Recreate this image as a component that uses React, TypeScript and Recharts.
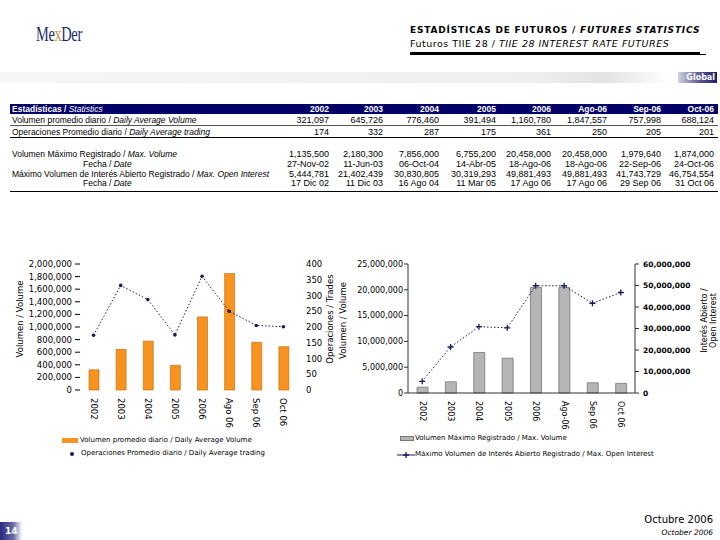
import React from 'react';
import { ComposedChart, Bar, Line, XAxis, YAxis, Label } from 'recharts';

// ---------- data ----------
const tableHeaders = ['2002', '2003', '2004', '2005', '2006', 'Ago-06', 'Sep-06', 'Oct-06'];
const leftCategories = ['2002', '2003', '2004', '2005', '2006', 'Ago 06', 'Sep 06', 'Oct 06'];
const rightCategories = ['2002', '2003', '2004', '2005', '2006', 'Ago-06', 'Sep 06', 'Oct 06'];
const dailyAvgVolume = [321097, 645726, 776460, 391494, 1160780, 1847557, 757998, 688124];
const dailyAvgTrades = [174, 332, 287, 175, 361, 250, 205, 201];
const maxVolume = [1135500, 2180300, 7856000, 6755200, 20458000, 20458000, 1979640, 1874000];
const maxVolumeDates = ['27-Nov-02', '11-Jun-03', '06-Oct-04', '14-Abr-05', '18-Ago-06', '18-Ago-06', '22-Sep-06', '24-Oct-06'];
const maxOpenInterest = [5444781, 21402439, 30830805, 30319293, 49881493, 49881493, 41743729, 46754554];
const maxOpenInterestDates = ['17 Dic 02', '11 Dic 03', '16 Ago 04', '11 Mar 05', '17 Ago 06', '17 Ago 06', '29 Sep 06', '31 Oct 06'];
const volumeTicks = [0, 200000, 400000, 600000, 800000, 1000000, 1200000, 1400000, 1600000, 1800000, 2000000];
const tradesTicks = [0, 50, 100, 150, 200, 250, 300, 350, 400];
const maxVolumeTicks = [0, 5000000, 10000000, 15000000, 20000000, 25000000];
const openInterestTicks = [0, 10000000, 20000000, 30000000, 40000000, 50000000, 60000000];

const leftData = leftCategories.map((c, i) => ({ cat: c, volume: dailyAvgVolume[i], trades: dailyAvgTrades[i] }));
const rightData = rightCategories.map((c, i) => ({ cat: c, maxVol: maxVolume[i], maxOI: maxOpenInterest[i] }));

const fmt = (v: number) => v.toLocaleString('en-US');

const NAVY = '#000066';
const LINE = '#1a1a5e';
const FONT = '"DejaVu Sans", Verdana, sans-serif';
const TFONT = '"Liberation Sans", Arial, sans-serif';

// ---------- pieces ----------
const RotTick = (props: any) => {
  const { x, y, payload, bold, size } = props;
  return (
    <text
      transform={`translate(${x},${y}) rotate(90)`}
      x={0}
      y={0}
      textAnchor="start"
      dominantBaseline="central"
      fontSize={size || 8.5}
      fontWeight={bold ? 'bold' : 'normal'}
      fontFamily={FONT}
      fill="#000"
    >
      {payload.value}
    </text>
  );
};

const VTitle = (lines: string[], side: 'left' | 'right', offset: number, size: number) => (props: any) => {
  const vb = props.viewBox || { x: 0, y: 0, width: 0, height: 0 };
  const cx = side === 'left' ? vb.x + offset : vb.x + vb.width - offset;
  const cy = vb.y + vb.height / 2 - 8;
  return (
    <text
      transform={`translate(${cx},${cy}) rotate(-90)`}
      textAnchor="middle"
      fontSize={size}
      fontFamily={FONT}
      fill="#000"
    >
      {lines.map((l, i) => (
        <tspan key={i} x={0} dy={i === 0 ? 0 : size + 1}>
          {l}
        </tspan>
      ))}
    </text>
  );
};

const PlusDot = (props: any) => {
  const { cx, cy } = props;
  if (cx == null || cy == null) return null;
  return <path d={`M${cx - 3},${cy}h6M${cx},${cy - 3}v6`} stroke={LINE} strokeWidth={1.3} fill="none" />;
};

const colRight = [329, 383, 439, 496, 551, 607, 661, 714];

const TableRow = ({ top, label, values, indent, header }: any) => (
  <div style={{ position: 'absolute', top, left: 0, width: 720, height: 10 }}>
    <div
      style={{
        position: 'absolute',
        left: indent ? 83 : 12,
        top: 0,
        whiteSpace: 'nowrap',
        fontSize: 8.5,
        lineHeight: '10px',
        fontWeight: header ? 'bold' : 'normal',
        color: header ? '#fff' : '#000',
      }}
    >
      {label}
    </div>
    {values.map((v: string, i: number) => (
      <div
        key={i}
        style={{
          position: 'absolute',
          right: 720 - colRight[i],
          top: 0,
          whiteSpace: 'nowrap',
          fontSize: header ? 8.5 : 9,
          lineHeight: '10px',
          fontWeight: header ? 'bold' : 'normal',
          color: header ? '#fff' : '#000',
        }}
      >
        {v}
      </div>
    ))}
  </div>
);

export default function App() {
  return (
    <div
      style={{
        position: 'fixed',
        left: 0,
        top: 0,
        width: 720,
        height: 540,
        background: '#fff',
        overflow: 'hidden',
        fontFamily: FONT,
      }}
    >
      {/* Logo */}
      <div
        style={{
          position: 'absolute',
          left: 36,
          top: 23,
          fontFamily: '"Liberation Serif", "DejaVu Serif", serif',
          fontSize: 20,
          color: '#1c2a6b',
          transform: 'scaleX(0.72)',
          transformOrigin: 'left top',
          letterSpacing: -0.5,
        }}
      >
        Me<span style={{ color: '#c8923a' }}>x</span>Der
      </div>

      {/* Title */}
      <div style={{ position: 'absolute', left: 410, top: 25, fontSize: 9, fontWeight: 'bold', letterSpacing: 0.8, whiteSpace: 'nowrap' }}>
        ESTADÍSTICAS DE FUTUROS / <i>FUTURES STATISTICS</i>
      </div>
      <div style={{ position: 'absolute', left: 410, top: 38, fontSize: 9.5, letterSpacing: 0.5, whiteSpace: 'nowrap' }}>
        Futuros TIIE 28 / <i>TIIE 28 INTEREST RATE FUTURES</i>
      </div>
      <div style={{ position: 'absolute', left: 410, top: 52, width: 290, height: 3, background: '#000' }} />
      <div style={{ position: 'absolute', left: 700, top: 54, width: 6, height: 1, background: '#000' }} />

      {/* Global band */}
      <div
        style={{
          position: 'absolute',
          left: 0,
          top: 72,
          width: 720,
          height: 11,
          background: 'linear-gradient(to right, #f6f6f6 0%, #eeeeee 75%, #e2e2e2 84%, #ffffff 93%)',
        }}
      />
      <div
        style={{
          position: 'absolute',
          left: 678,
          top: 72,
          width: 39,
          height: 11,
          background: 'linear-gradient(to right, #d4d4e0, #5a5a90 55%, #1e1e6e)',
          color: '#fff',
          fontSize: 8,
          fontWeight: 'bold',
          lineHeight: '11px',
          textAlign: 'right',
          paddingRight: 2,
          boxSizing: 'border-box',
        }}
      >
        Global
      </div>

      {/* Table */}
      <div style={{ fontFamily: TFONT }}>
        <div style={{ position: 'absolute', left: 10, top: 104, width: 708, height: 10, background: NAVY }} />
        <TableRow
          top={104}
          header
          label={
            <span>
              Estadísticas / <i style={{ fontWeight: 'normal' }}>Statistics</i>
            </span>
          }
          values={tableHeaders}
        />
        <TableRow
          top={115}
          label={
            <span>
              Volumen promedio diario / <i>Daily Average Volume</i>
            </span>
          }
          values={dailyAvgVolume.map(fmt)}
        />
        <div style={{ position: 'absolute', left: 10, top: 125, width: 708, height: 1, background: '#555' }} />
        <TableRow
          top={127}
          label={
            <span>
              Operaciones Promedio diario / <i>Daily Average trading</i>
            </span>
          }
          values={dailyAvgTrades.map(fmt)}
        />
        <div style={{ position: 'absolute', left: 10, top: 137, width: 708, height: 1, background: '#000' }} />
        <TableRow
          top={149}
          label={
            <span>
              Volumen Máximo Registrado / <i>Max. Volume</i>
            </span>
          }
          values={maxVolume.map(fmt)}
        />
        <TableRow
          top={159}
          indent
          label={
            <span>
              Fecha / <i>Date</i>
            </span>
          }
          values={maxVolumeDates}
        />
        <TableRow
          top={169}
          label={
            <span>
              Máximo Volumen de Interés Abierto Registrado / <i>Max. Open Interest</i>
            </span>
          }
          values={maxOpenInterest.map(fmt)}
        />
        <TableRow
          top={178}
          indent
          label={
            <span>
              Fecha / <i>Date</i>
            </span>
          }
          values={maxOpenInterestDates}
        />
        <div style={{ position: 'absolute', left: 10, top: 191, width: 708, height: 1, background: '#000' }} />
      </div>

      {/* Left chart */}
      <div style={{ position: 'absolute', left: 0, top: 255 }}>
        <ComposedChart width={360} height={185} data={leftData} margin={{ top: 9, right: 13, bottom: 0, left: 0 }}>
          <XAxis dataKey="cat" xAxisId={0} height={50} interval={0} tickLine={false} axisLine={false} tick={<RotTick size={8.5} />} />
          <YAxis
            yAxisId="vol"
            width={80}
            domain={[0, 2000000]}
            ticks={volumeTicks}
            interval={0}
            tickFormatter={fmt}
            axisLine={false}
            tickLine={{ stroke: '#000' }}
            tickSize={5}
            tickMargin={3}
            tick={{ fontSize: 8.5, fill: '#000', fontFamily: FONT }}
          >
            <Label content={VTitle(['Volumen / Volume'], 'left', 23, 8.5)} />
          </YAxis>
          <YAxis
            yAxisId="ops"
            orientation="right"
            width={50}
            domain={[0, 400]}
            ticks={tradesTicks}
            interval={0}
            axisLine={false}
            tickLine={false}
            tickMargin={3}
            tick={{ fontSize: 8.5, fill: '#000', fontFamily: FONT, textAnchor: 'start' }}
          >
            <Label content={VTitle(['Operaciones / Trades'], 'right', 14, 8.5)} />
          </YAxis>
          <Bar yAxisId="vol" dataKey="volume" fill="#F7931E" stroke="#b86a10" strokeWidth={0.6} barSize={10} isAnimationActive={false} />
          <Line
            yAxisId="ops"
            dataKey="trades"
            type="linear"
            stroke={LINE}
            strokeWidth={1}
            strokeDasharray="1.5 2"
            dot={{ r: 1.8, fill: LINE, stroke: 'none' }}
            isAnimationActive={false}
          />
        </ComposedChart>
      </div>

      {/* Left legend */}
      <div style={{ position: 'absolute', left: 62, top: 438, width: 16, height: 5, background: '#F7931E' }} />
      <div style={{ position: 'absolute', left: 80, top: 436, fontSize: 7, lineHeight: '9px', whiteSpace: 'nowrap' }}>
        Volumen promedio diario / Daily Average Volume
      </div>
      <div style={{ position: 'absolute', left: 70, top: 452, width: 4, height: 4, borderRadius: 2, background: LINE }} />
      <div style={{ position: 'absolute', left: 81, top: 449, fontSize: 7, lineHeight: '9px', whiteSpace: 'nowrap' }}>
        Operaciones Promedio diario / Daily Average trading
      </div>

      {/* Right chart */}
      <div style={{ position: 'absolute', left: 330, top: 255 }}>
        <ComposedChart width={390} height={188} data={rightData} margin={{ top: 9, right: 0, bottom: 0, left: 0 }}>
          <XAxis
            dataKey="cat"
            height={50}
            interval={0}
            tickLine={false}
            axisLine={{ stroke: '#333' }}
            tick={<RotTick size={8} />}
          />
          <YAxis
            yAxisId="mv"
            width={78}
            domain={[0, 25000000]}
            ticks={maxVolumeTicks}
            interval={0}
            tickFormatter={fmt}
            axisLine={{ stroke: '#333' }}
            tickLine={{ stroke: '#333' }}
            tickSize={4}
            tickMargin={1}
            tick={{ fontSize: 8, fill: '#000', fontFamily: FONT }}
          >
            <Label content={VTitle(['Volumen / Volume'], 'left', 16, 8.5)} />
          </YAxis>
          <YAxis
            yAxisId="oi"
            orientation="right"
            width={85}
            domain={[0, 60000000]}
            ticks={openInterestTicks}
            interval={0}
            tickFormatter={fmt}
            axisLine={{ stroke: '#333' }}
            tickLine={{ stroke: '#333' }}
            tickSize={4}
            tickMargin={4}
            tick={{ fontSize: 7.5, fill: '#000', fontFamily: FONT, fontWeight: 'bold' }}
          >
            <Label content={VTitle(['Interés Abierto /', 'Open Interest'], 'right', 13, 8)} />
          </YAxis>
          <Bar yAxisId="mv" dataKey="maxVol" fill="#B5B5B5" stroke="#777" strokeWidth={0.8} barSize={11} isAnimationActive={false} />
          <Line
            yAxisId="oi"
            dataKey="maxOI"
            type="linear"
            stroke={LINE}
            strokeWidth={1}
            strokeDasharray="1.5 2"
            dot={<PlusDot />}
            isAnimationActive={false}
          />
        </ComposedChart>
      </div>

      {/* Right legend */}
      <div style={{ position: 'absolute', left: 400, top: 436, width: 14, height: 5, background: '#B5B5B5', border: '0.5px solid #777', boxSizing: 'border-box' }} />
      <div style={{ position: 'absolute', left: 415, top: 434, fontSize: 7, lineHeight: '9px', whiteSpace: 'nowrap' }}>
        Volumen Máximo Registrado / Max. Volume
      </div>
      <svg style={{ position: 'absolute', left: 396, top: 450 }} width={20} height={10}>
        <line x1={1} y1={5} x2={19} y2={5} stroke={LINE} strokeWidth={1} />
        <path d="M7,5h6M10,2v6" stroke={LINE} strokeWidth={1.3} />
      </svg>
      <div style={{ position: 'absolute', left: 415, top: 450, fontSize: 7, lineHeight: '9px', whiteSpace: 'nowrap' }}>
        Máximo Volumen de Interés Abierto Registrado / Max. Open Interest
      </div>

      {/* Footer */}
      <div
        style={{
          position: 'absolute',
          left: 0,
          top: 522,
          width: 22,
          height: 18,
          background: 'linear-gradient(to right, #2a2a80, #6a6aa8 60%, #ffffff)',
          color: '#fff',
          fontSize: 9,
          fontWeight: 'bold',
          lineHeight: '18px',
          paddingLeft: 5,
          boxSizing: 'border-box',
        }}
      >
        14
      </div>
      <div style={{ position: 'absolute', right: 7, top: 514, fontSize: 10, whiteSpace: 'nowrap' }}>Octubre 2006</div>
      <div style={{ position: 'absolute', right: 7, top: 528, fontSize: 7.5, fontStyle: 'italic', whiteSpace: 'nowrap' }}>
        October 2006
      </div>
    </div>
  );
}
